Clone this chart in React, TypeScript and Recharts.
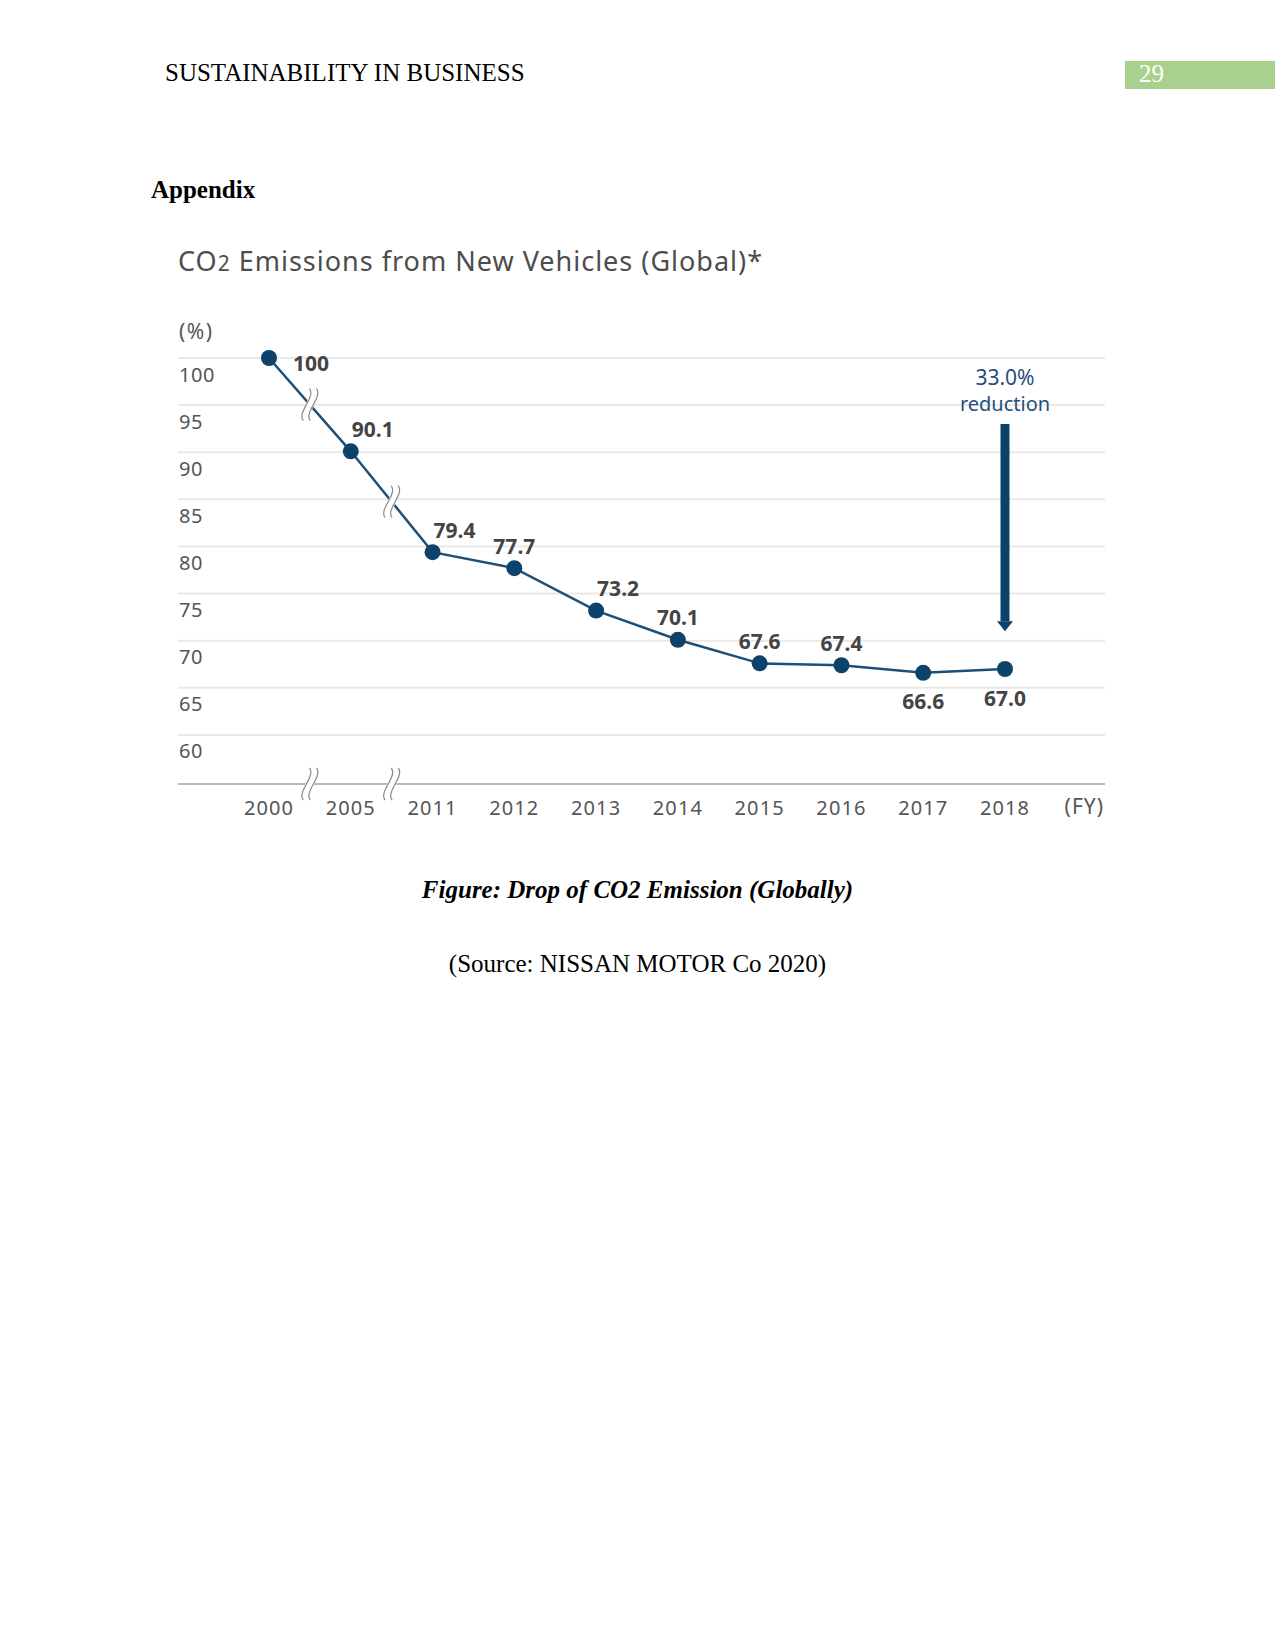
import {
  CartesianGrid,
  LabelList,
  Line,
  LineChart,
  ReferenceDot,
  ReferenceLine,
  XAxis,
  YAxis,
} from 'recharts';

const YEARS = ['2000', '2005', '2011', '2012', '2013', '2014', '2015', '2016', '2017', '2018'];
const EMISSIONS = [100, 90.1, 79.4, 77.7, 73.2, 70.1, 67.6, 67.4, 66.6, 67.0];
const VALUE_LABELS = ['100', '90.1', '79.4', '77.7', '73.2', '70.1', '67.6', '67.4', '66.6', '67.0'];
const Y_TICKS = [60, 65, 70, 75, 80, 85, 90, 95, 100];
// the axis is broken between 2000–2005 and 2005–2011
const BREAK_AFTER = [0, 1];
const REDUCTION_TEXT = ['33.0%', 'reduction'];
const ARROW_FROM = 93;
const ARROW_TO = 71;

// where each value label sits relative to its dot
const LABEL_PLACE = ['right', 'aboveStart', 'aboveStart', 'above', 'aboveStart', 'above', 'above', 'above', 'below', 'below'];

const Y_DOMAIN: [number, number] = [54.8, 100];
const FONT = "'Noto Sans', sans-serif";
const SERIF = "'Liberation Serif', 'Times New Roman', serif";
const NAVY = '#0d436b';
const LINE_COLOR = '#1f4f74';
const TEXT_GRAY = '#555';

const chartData = YEARS.map((year, i) => ({ idx: i, year, value: EMISSIONS[i] }));
const breaks = BREAK_AFTER.map((i) => ({ x: i + 0.5, y: (EMISSIONS[i] + EMISSIONS[i + 1]) / 2 }));

function BreakMark(props: any) {
  const { cx, cy } = props;
  const d = 'M 3 -16 C 10 -8, -10 8, -3 16';
  return (
    <g transform={`translate(${cx},${cy})`}>
      <path d={d} stroke="#fff" strokeWidth={8} fill="none" />
      <path d={d} transform="translate(-3.5,0)" stroke="#8a8a8a" strokeWidth={1.2} fill="none" />
      <path d={d} transform="translate(3.5,0)" stroke="#8a8a8a" strokeWidth={1.2} fill="none" />
    </g>
  );
}

function YTick(props: any) {
  const { x, y, payload } = props;
  return (
    <text x={x + 1} y={y + 23.5} textAnchor="start" fill={TEXT_GRAY} fontSize={20} fontFamily={FONT} letterSpacing={0.5}>
      {payload.value}
    </text>
  );
}

function XTick(props: any) {
  const { x, y, payload } = props;
  return (
    <text x={x} y={y + 31} textAnchor="middle" fill={TEXT_GRAY} fontSize={20} fontFamily={FONT} letterSpacing={1.1}>
      {YEARS[payload.value]}
    </text>
  );
}

function ValueLabel(props: any) {
  const { x, y, index } = props;
  const place = LABEL_PLACE[index];
  let tx = x;
  let cy = y - 22;
  let anchor = 'middle';
  if (place === 'right') {
    tx = x + 24;
    cy = y + 5;
    anchor = 'start';
  } else if (place === 'aboveStart') {
    tx = x + 1;
    anchor = 'start';
  } else if (place === 'below') {
    cy = y + 29;
  }
  return (
    <text x={tx} y={cy + 7.5} textAnchor={anchor} fill="#444" fontSize={21} fontWeight={700} fontFamily={FONT}>
      {VALUE_LABELS[index]}
    </text>
  );
}

function ReductionArrow(props: any) {
  const { x1, y1, y2 } = props;
  const top = Math.min(y1, y2);
  const tip = Math.max(y1, y2);
  return (
    <g>
      <text x={x1} y={top - 46 + 7.5} textAnchor="middle" fill="#1f4f7a" fontSize={21} fontFamily={FONT}>
        {REDUCTION_TEXT[0]}
      </text>
      <text x={x1} y={top - 20 + 7.3} textAnchor="middle" fill="#1f4f7a" fontSize={20} fontFamily={FONT}>
        {REDUCTION_TEXT[1]}
      </text>
      <rect x={x1 - 4.5} y={top} width={9} height={tip - 10 - top} fill={NAVY} />
      <path d={`M ${x1 - 8} ${tip - 10} L ${x1 + 8} ${tip - 10} L ${x1} ${tip} Z`} fill={NAVY} />
    </g>
  );
}

export default function App() {
  return (
    <div
      style={{
        position: 'absolute',
        left: 0,
        top: 0,
        width: 1275,
        height: 1651,
        background: '#fff',
        fontFamily: SERIF,
        color: '#000',
      }}
    >
      <div style={{ position: 'absolute', left: 165, top: 59, fontSize: 25, lineHeight: 'normal' }}>
        SUSTAINABILITY IN BUSINESS
      </div>
      <div
        style={{
          position: 'absolute',
          left: 1125,
          top: 61,
          width: 150,
          height: 28,
          background: '#a9d18e',
        }}
      />
      <div style={{ position: 'absolute', left: 1139, top: 60, fontSize: 25, color: '#fff', lineHeight: 'normal' }}>
        29
      </div>
      <div style={{ position: 'absolute', left: 151, top: 176, fontSize: 25, fontWeight: 700, lineHeight: 'normal' }}>
        Appendix
      </div>

      <div
        style={{
          position: 'absolute',
          left: 178,
          top: 247,
          fontSize: 27,
          lineHeight: '27px',
          letterSpacing: 1,
          fontFamily: FONT,
          color: '#4d4d4d',
          whiteSpace: 'nowrap',
        }}
      >
        CO<span style={{ fontSize: 21 }}>2</span> Emissions from New Vehicles (Global)*
      </div>
      <div
        style={{
          position: 'absolute',
          left: 179,
          top: 321,
          fontSize: 21,
          lineHeight: '21px',
          letterSpacing: 1.5,
          fontFamily: FONT,
          color: TEXT_GRAY,
        }}
      >
        (%)
      </div>

      <div style={{ position: 'absolute', left: 170, top: 300 }}>
        <LineChart
          width={950}
          height={540}
          data={chartData}
          margin={{ top: 58, right: 15, bottom: 16, left: 8 }}
        >
          <CartesianGrid vertical={false} stroke="#e9e9e9" strokeWidth={2} />
          <XAxis
            type="number"
            dataKey="idx"
            domain={[0, YEARS.length - 1]}
            ticks={YEARS.map((_, i) => i)}
            padding={{ left: 91, right: 100 }}
            height={40}
            tickSize={0}
            tickMargin={0}
            tickLine={false}
            axisLine={{ stroke: '#b8b8b8', strokeWidth: 2 }}
            tick={<XTick />}
          />
          <YAxis
            type="number"
            domain={Y_DOMAIN}
            ticks={Y_TICKS}
            width={60}
            mirror
            interval={0}
            tickSize={0}
            tickMargin={0}
            tickLine={false}
            axisLine={false}
            tick={<YTick />}
          />
          <Line
            type="linear"
            dataKey="value"
            stroke={LINE_COLOR}
            strokeWidth={2.5}
            dot={{ r: 8, fill: NAVY, stroke: NAVY, strokeWidth: 0 }}
            activeDot={false}
            isAnimationActive={false}
          >
            <LabelList dataKey="value" content={<ValueLabel />} />
          </Line>
          {breaks.map((b) => (
            <ReferenceDot key={`l${b.x}`} x={b.x} y={b.y} ifOverflow="visible" shape={<BreakMark />} />
          ))}
          {breaks.map((b) => (
            <ReferenceDot key={`a${b.x}`} x={b.x} y={Y_DOMAIN[0]} ifOverflow="visible" shape={<BreakMark />} />
          ))}
          <ReferenceLine
            segment={[
              { x: YEARS.length - 1, y: ARROW_FROM },
              { x: YEARS.length - 1, y: ARROW_TO },
            ]}
            ifOverflow="visible"
            shape={<ReductionArrow />}
          />
        </LineChart>
      </div>

      <div
        style={{
          position: 'absolute',
          left: 1104 - 80,
          width: 80,
          textAlign: 'right',
          top: 796,
          fontSize: 21,
          lineHeight: '21px',
          letterSpacing: 1,
          fontFamily: FONT,
          color: TEXT_GRAY,
        }}
      >
        (FY)
      </div>

      <div
        style={{
          position: 'absolute',
          left: 0,
          width: 1275,
          textAlign: 'center',
          top: 876,
          fontSize: 25,
          fontWeight: 700,
          fontStyle: 'italic',
          lineHeight: 'normal',
        }}
      >
        Figure: Drop of CO2 Emission (Globally)
      </div>
      <div
        style={{
          position: 'absolute',
          left: 0,
          width: 1275,
          textAlign: 'center',
          top: 950,
          fontSize: 25,
          lineHeight: 'normal',
        }}
      >
        (Source: NISSAN MOTOR Co 2020)
      </div>
    </div>
  );
}
